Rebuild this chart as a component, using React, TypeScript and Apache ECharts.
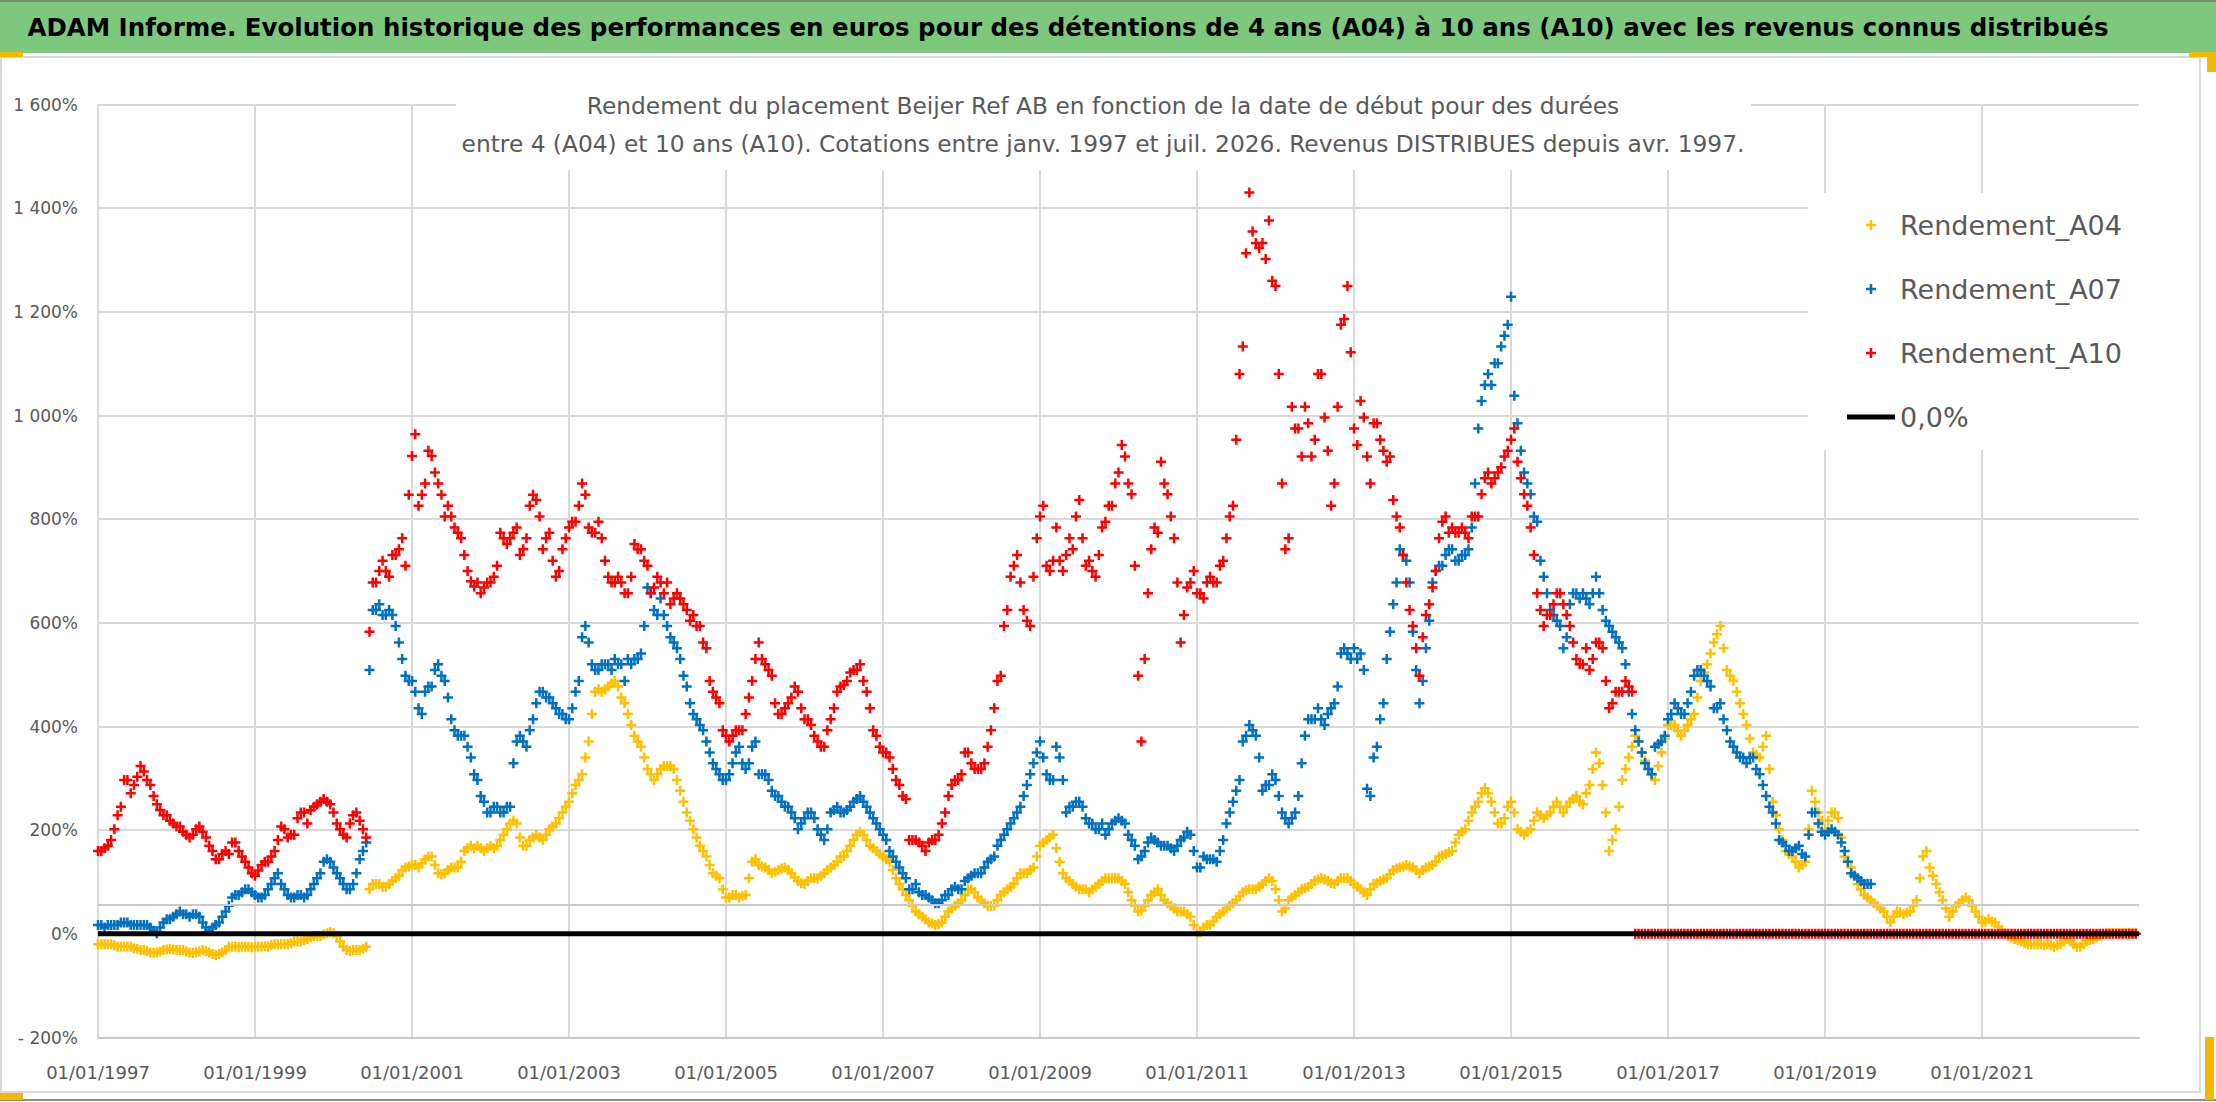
import { useEffect, useRef } from "react";
import * as echarts from "echarts";

// Readings from January 1997: one value on the 1st and one on the 15th of each month (in %)
const startYear = 1997;

const rendementA04Debut = [
    -20, -20, -20, -25, -25, -25, -29, -31, -36, -36, -31, -29,
    -31, -31, -36, -36, -31, -36, -41, -36, -25, -25, -25, -25,
    -25, -25, -25, -20, -20, -20, -15, -15, -10, -4, -4, 1,
    1, -15, -31, -31, -31, -25, 96, 96, 91, 102, 112, 128,
    133, 128, 144, 149, 117, 117, 128, 128, 160, 170, 170, 160,
    170, 170, 191, 213, 213, 170, 181, 191, 181, 202, 213, 234,
    255, 287, 308, 371, 467, 467, 477, 488, 456, 424, 382, 361,
    318, 297, 318, 324, 318, 276, 234, 202, 170, 149, 117, 107,
    70, 75, 70, 75, 139, 133, 128, 117, 123, 128, 117, 102,
    96, 107, 107, 117, 128, 139, 149, 170, 191, 191, 170, 160,
    149, 139, 107, 86, 65, 43, 33, 22, 17, 22, 43, 54,
    65, 86, 80, 65, 54, 54, 75, 86, 96, 117, 117, 128,
    170, 181, 191, 139, 107, 96, 86, 86, 86, 96, 107, 107,
    107, 96, 65, 43, 54, 75, 86, 65, 54, 43, 43, 33,
    1, 12, 17, 33, 43, 54, 65, 80, 86, 86, 96, 107,
    86, 43, 65, 75, 86, 91, 102, 107, 102, 96, 107, 107,
    96, 86, 75, 96, 102, 107, 123, 128, 133, 128, 117, 128,
    133, 149, 154, 160, 191, 202, 234, 255, 281, 255, 213, 223,
    255, 202, 191, 202, 234, 223, 234, 255, 234, 255, 266, 250,
    287, 350, 287, 160, 202, 297, 340, 382, 350, 318, 297, 350,
    403, 403, 382, 403, 424, 488, 520, 562, 594, 509, 488, 445,
    403, 350, 340, 382, 255, 202, 160, 149, 128, 139, 276, 234,
    202, 234, 223, 149, 128, 96, 75, 65, 54, 43, 22, 43,
    38, 43, 65, 149, 128, 96, 65, 33, 54, 65, 65, 43,
    22, 28, 22, 6, -4, -10, -15, -20, -20, -20, -20, -25,
    -20, -10, -20, -25, -15, -10, -4, 1, 1, 1, 1, 1,
];

const rendementA04Milieu = [
    -20, -20, -22, -25, -25, -28, -31, -33, -37, -34, -30, -30,
    -31, -34, -37, -34, -33, -39, -39, -31, -25, -26, -25, -26,
    -25, -24, -22, -20, -20, -18, -15, -12, -7, -4, -1, 3,
    -4, -25, -33, -31, -29, 86, 96, 91, 96, 107, 123, 130,
    133, 136, 149, 133, 115, 123, 128, 139, 165, 165, 165, 165,
    165, 181, 202, 218, 186, 170, 186, 186, 191, 207, 223, 245,
    271, 297, 340, 424, 472, 472, 483, 477, 445, 403, 371, 340,
    308, 308, 324, 324, 297, 255, 218, 186, 160, 133, 112, 86,
    70, 75, 73, 107, 144, 130, 123, 120, 126, 123, 109, 98,
    102, 107, 112, 123, 133, 149, 160, 181, 197, 181, 165, 154,
    144, 123, 96, 75, 54, 38, 28, 20, 19, 33, 49, 59,
    75, 86, 70, 59, 54, 65, 80, 91, 107, 117, 123, 149,
    176, 186, 165, 117, 102, 91, 86, 80, 91, 102, 107, 107,
    102, 80, 54, 45, 65, 80, 75, 59, 49, 43, 38, 17,
    3, 17, 24, 38, 49, 59, 73, 84, 86, 91, 102, 102,
    65, 49, 70, 80, 88, 96, 105, 105, 98, 102, 107, 102,
    91, 80, 86, 98, 105, 115, 126, 130, 130, 123, 123, 130,
    139, 151, 158, 176, 197, 218, 245, 271, 271, 234, 213, 245,
    234, 197, 197, 218, 229, 229, 245, 245, 245, 260, 255, 271,
    318, 329, 234, 181, 245, 318, 361, 371, 334, 308, 324, 377,
    403, 392, 392, 414, 456, 504, 541, 578, 551, 498, 467, 424,
    377, 345, 361, 318, 229, 181, 154, 139, 133, 202, 255, 218,
    218, 234, 186, 139, 112, 86, 70, 59, 49, 33, 33, 41,
    41, 54, 107, 160, 112, 80, 49, 43, 59, 70, 54, 33,
    24, 24, 14, 1, -7, -12, -18, -20, -20, -22, -22, -22,
    -15, -15, -25, -20, -12, -7, -1, 1, 1, 1, 1, 1,
];

const rendementA07Debut = [
    17, 12, 17, 17, 22, 17, 17, 17, 12, 1, 22, 28,
    38, 38, 33, 38, 22, 6, 17, 33, 54, 75, 80, 86,
    75, 70, 86, 107, 96, 75, 70, 75, 75, 96, 117, 144,
    128, 107, 86, 96, 144, 176, 625, 636, 615, 615, 562, 498,
    488, 435, 467, 477, 520, 488, 414, 382, 382, 340, 297, 255,
    234, 245, 234, 245, 371, 371, 393, 445, 467, 456, 435, 424,
    414, 467, 572, 562, 509, 520, 520, 530, 520, 530, 530, 541,
    668, 625, 647, 594, 562, 530, 477, 424, 403, 371, 329, 308,
    297, 329, 361, 318, 361, 308, 308, 276, 266, 245, 234, 202,
    223, 234, 202, 181, 234, 245, 234, 245, 260, 255, 234, 213,
    191, 160, 139, 117, 86, 96, 75, 70, 59, 65, 75, 91,
    86, 107, 117, 117, 139, 149, 181, 202, 223, 245, 287, 329,
    371, 308, 297, 340, 234, 245, 255, 223, 213, 202, 191, 213,
    223, 213, 181, 144, 160, 186, 176, 170, 165, 170, 186, 191,
    128, 149, 144, 139, 181, 234, 276, 371, 403, 382, 276, 287,
    297, 234, 213, 234, 329, 414, 414, 414, 424, 445, 541, 541,
    551, 541, 280, 340, 414, 530, 636, 742, 720, 583, 445, 551,
    678, 710, 731, 742, 720, 731, 784, 975, 1059, 1059, 1101, 1154,
    1229, 985, 890, 848, 795, 689, 625, 604, 551, 636, 657, 657,
    636, 689, 625, 594, 572, 551, 467, 393, 350, 318, 361, 371,
    414, 445, 424, 445, 498, 509, 488, 435, 445, 393, 361, 340,
    329, 340, 308, 266, 234, 181, 170, 160, 170, 149, 234, 213,
    191, 202, 191, 160, 117, 107, 96, 96,
];

const rendementA07Milieu = [
    17, 17, 17, 22, 22, 17, 17, 17, 6, 12, 28, 33,
    43, 38, 38, 33, 12, 12, 22, 43, 70, 75, 86, 80,
    70, 75, 96, 117, 86, 70, 75, 70, 86, 107, 139, 139,
    117, 96, 86, 117, 160, 509, 625, 615, 625, 594, 530, 488,
    467, 424, 477, 509, 498, 456, 393, 382, 361, 308, 266, 234,
    245, 234, 245, 329, 382, 361, 414, 467, 456, 445, 424, 414,
    435, 488, 594, 520, 509, 520, 509, 520, 488, 520, 530, 594,
    657, 615, 615, 572, 551, 498, 445, 414, 393, 350, 318, 297,
    308, 350, 329, 329, 371, 308, 297, 266, 255, 245, 223, 213,
    234, 223, 191, 202, 239, 234, 239, 255, 266, 245, 223, 202,
    181, 149, 128, 107, 86, 80, 75, 65, 59, 75, 86, 86,
    102, 112, 117, 128, 144, 170, 191, 213, 234, 266, 308, 350,
    340, 297, 361, 297, 245, 255, 245, 213, 202, 213, 202, 218,
    218, 191, 170, 149, 176, 181, 170, 170, 160, 181, 197, 160,
    128, 144, 144, 160, 213, 255, 297, 382, 393, 340, 287, 308,
    266, 223, 223, 266, 382, 414, 435, 403, 435, 477, 551, 530,
    530, 509, 266, 361, 445, 583, 678, 731, 678, 509, 488, 604,
    700, 710, 742, 720, 731, 742, 869, 1028, 1080, 1101, 1133, 1175,
    1038, 932, 869, 805, 720, 657, 615, 594, 572, 657, 647, 647,
    657, 657, 604, 583, 562, 520, 424, 371, 329, 308, 366, 382,
    424, 435, 424, 467, 509, 498, 477, 435, 414, 371, 350, 340,
    340, 318, 287, 245, 213, 176, 160, 165, 154, 191, 234, 197,
    197, 197, 176, 139, 112, 102, 96,
];

const rendementA10Debut = [
    160, 165, 181, 229, 297, 271, 303, 313, 287, 250, 229, 218,
    207, 197, 186, 202, 197, 170, 144, 154, 154, 176, 149, 128,
    112, 133, 139, 160, 207, 186, 191, 234, 213, 245, 255, 255,
    234, 202, 186, 229, 218, 186, 678, 700, 700, 731, 742, 710,
    922, 826, 869, 922, 869, 805, 805, 774, 731, 680, 678, 668,
    678, 710, 763, 763, 784, 742, 826, 837, 742, 774, 689, 742,
    784, 795, 869, 784, 774, 763, 689, 678, 678, 657, 752, 742,
    710, 668, 678, 678, 647, 647, 625, 615, 594, 551, 467, 445,
    382, 382, 393, 424, 488, 562, 520, 498, 424, 435, 456, 467,
    414, 403, 371, 361, 414, 467, 480, 504, 509, 488, 435, 382,
    350, 340, 297, 266, 181, 181, 170, 176, 181, 213, 266, 297,
    308, 350, 318, 318, 361, 435, 498, 625, 710, 678, 604, 689,
    805, 710, 720, 720, 731, 742, 837, 710, 700, 731, 795, 826,
    890, 921, 848, 498, 530, 742, 774, 869, 805, 678, 615, 678,
    657, 647, 689, 678, 720, 805, 953, 1133, 1430, 1333, 1333, 1376,
    1250, 869, 763, 975, 921, 985, 953, 1080, 932, 869, 1175, 1250,
    975, 1028, 921, 985, 953, 911, 837, 784, 678, 594, 498, 615,
    668, 763, 805, 784, 774, 774, 805, 805, 879, 869, 890, 921,
    953, 911, 848, 784, 657, 594, 615, 657, 636, 594, 530, 520,
    509, 562, 551, 435, 467, 467, 477, 0, 0, 0, 0, 0,
    0, 0, 0, 0, 0, 0, 0, 0, 0, 0, 0, 0,
    0, 0, 0, 0, 0, 0, 0, 0, 0, 0, 0, 0,
    0, 0, 0, 0, 0, 0, 0, 0, 0, 0, 0, 0,
    0, 0, 0, 0, 0, 0, 0, 0, 0, 0, 0, 0,
    0, 0, 0, 0, 0, 0, 0, 0, 0, 0, 0, 0,
    0, 0, 0, 0, 0, 0, 0, 0, 0, 0, 0, 0,
];

const rendementA10Milieu = [
    160, 170, 202, 245, 297, 287, 324, 297, 266, 239, 229, 213,
    207, 191, 191, 207, 186, 160, 144, 160, 176, 160, 139, 117,
    122, 139, 149, 181, 202, 191, 223, 234, 239, 250, 260, 250,
    213, 191, 213, 234, 202, 583, 678, 720, 689, 731, 763, 847,
    964, 847, 932, 890, 847, 826, 784, 763, 700, 670, 657, 678,
    689, 774, 752, 774, 731, 763, 847, 805, 763, 720, 700, 763,
    795, 826, 847, 774, 795, 720, 678, 689, 657, 689, 742, 720,
    657, 689, 657, 636, 657, 636, 604, 594, 562, 488, 456, 393,
    371, 393, 393, 456, 530, 530, 509, 445, 424, 445, 477, 435,
    414, 382, 361, 393, 435, 477, 488, 509, 520, 467, 393, 361,
    350, 318, 287, 260, 181, 176, 160, 181, 191, 234, 287, 297,
    350, 329, 318, 329, 393, 488, 594, 689, 731, 625, 594, 763,
    826, 700, 784, 700, 763, 805, 763, 720, 689, 784, 826, 869,
    943, 869, 710, 371, 657, 784, 911, 848, 763, 562, 668, 700,
    657, 678, 678, 710, 763, 826, 1080, 1313, 1355, 1323, 1302, 1260,
    1080, 742, 1017, 975, 1017, 921, 1080, 996, 826, 1017, 1186, 1122,
    943, 996, 869, 985, 932, 921, 805, 731, 625, 551, 572, 636,
    700, 795, 774, 774, 784, 763, 805, 848, 890, 879, 900, 932,
    975, 879, 826, 731, 625, 615, 636, 657, 615, 562, 520, 551,
    530, 562, 488, 445, 467, 488, 467, 0, 0, 0, 0, 0,
    0, 0, 0, 0, 0, 0, 0, 0, 0, 0, 0, 0,
    0, 0, 0, 0, 0, 0, 0, 0, 0, 0, 0, 0,
    0, 0, 0, 0, 0, 0, 0, 0, 0, 0, 0, 0,
    0, 0, 0, 0, 0, 0, 0, 0, 0, 0, 0, 0,
    0, 0, 0, 0, 0, 0, 0, 0, 0, 0, 0, 0,
    0, 0, 0, 0, 0, 0, 0, 0, 0, 0, 0, 0,
];

const zeroLevel = 0;
const greyLevel = 57;
const yearSpan = 26;

const FONT = "'DejaVu Sans', sans-serif";
const PLUS = "path://M3 0H5V3H8V5H5V8H3V5H0V3H3Z";

// x = years elapsed since 01/01/1997
const toPoints = (values: number[], offset: number) => values.map((v, i) => [(i + offset) / 12, v]);

const formatPercent = (v: number) => {
    const a = Math.abs(v);
    const s = a >= 1000 ? `${Math.floor(a / 1000)} ${String(a % 1000).padStart(3, "0")}` : String(a);
    return (v < 0 ? "- " : "") + s + "%";
};

const App = () => {
    const chartRef = useRef<HTMLDivElement>(null);

    useEffect(() => {
        document.body.style.margin = "0";
        if (!chartRef.current) return;
        const chart = echarts.init(chartRef.current, undefined, { renderer: "svg" });

        const scatter = (name: string, color: string, debut: number[], milieu: number[]) => ({
            name,
            type: "scatter",
            data: [...toPoints(debut, 0), ...toPoints(milieu, 0.5)],
            symbol: PLUS,
            symbolSize: 10,
            itemStyle: { color, opacity: 1 },
            emphasis: { disabled: true },
        });

        chart.setOption({
            animation: false,
            backgroundColor: "#ffffff",
            title: [
                {
                    text: "ADAM Informe. Evolution historique des performances en euros pour des détentions de 4 ans (A04) à 10 ans (A10) avec les revenus connus distribués",
                    left: 1068,
                    top: 12,
                    padding: 0,
                    textAlign: "center",
                    textStyle: { fontFamily: FONT, fontSize: 24.5, fontWeight: "bold", color: "#000000", lineHeight: 30 },
                },
                {
                    text: "Rendement du placement Beijer Ref AB en fonction de la date de début pour des durées\nentre 4 (A04) et 10 ans (A10). Cotations entre janv. 1997 et juil. 2026. Revenus DISTRIBUES depuis avr. 1997.",
                    left: 1103,
                    top: 86,
                    padding: 0,
                    textAlign: "center",
                    textStyle: { fontFamily: FONT, fontSize: 23.3, fontWeight: "normal", color: "#595959", lineHeight: 38 },
                },
            ],
            legend: [
                {
                    data: [
                        { name: "Rendement_A04", icon: PLUS },
                        { name: "Rendement_A07", icon: PLUS },
                        { name: "Rendement_A10", icon: PLUS },
                    ],
                    orient: "vertical",
                    left: 1866,
                    top: 210,
                    padding: 0,
                    itemWidth: 10,
                    itemHeight: 10,
                    itemGap: 34,
                    selectedMode: false,
                    textStyle: { fontFamily: FONT, fontSize: 27, color: "#595959", lineHeight: 30, padding: [0, 0, 0, 19] },
                },
                {
                    data: [{ name: "0,0%", icon: "rect" }],
                    orient: "vertical",
                    left: 1847,
                    top: 402,
                    padding: 0,
                    itemWidth: 48,
                    itemHeight: 5,
                    selectedMode: false,
                    textStyle: { fontFamily: FONT, fontSize: 27, color: "#595959", lineHeight: 30 },
                },
            ],
            grid: { left: 98, right: 77, top: 104.5, bottom: 64.5 },
            xAxis: {
                type: "value",
                min: 0,
                max: yearSpan,
                interval: 2,
                axisLine: { show: true, onZero: false, lineStyle: { color: "#c8c8c8", width: 2 } },
                axisTick: { show: false },
                axisLabel: {
                    margin: 26,
                    fontFamily: FONT,
                    fontSize: 18,
                    color: "#595959",
                    showMaxLabel: false,
                    formatter: (v: number) => (v >= yearSpan ? "" : `01/01/${startYear + v}`),
                },
                splitLine: { show: true, showMaxLine: false, lineStyle: { color: "#d9d9d9", width: 2 } },
            },
            yAxis: {
                type: "value",
                min: -200,
                max: 1600,
                interval: 200,
                axisLine: { show: false },
                axisTick: { show: false },
                axisLabel: { margin: 20, fontFamily: FONT, fontSize: 17, color: "#595959", formatter: formatPercent },
                splitLine: { show: true, lineStyle: { color: "#d9d9d9", width: 2 } },
            },
            graphic: [
                { type: "rect", z: 1, shape: { x: 0, y: 0, width: 2216, height: 53 }, style: { fill: "#7ec87e" } },
                { type: "line", z: 1, shape: { x1: 0, y1: 1, x2: 2216, y2: 1 }, style: { stroke: "#6f8f6f", lineWidth: 2 } },
                { type: "rect", z: 1, shape: { x: 1, y: 57, width: 2199, height: 1035 }, style: { fill: "none", stroke: "#d9d9d9", lineWidth: 2 } },
                { type: "line", z: 1, shape: { x1: 0, y1: 1100, x2: 2216, y2: 1100 }, style: { stroke: "#8c8c8c", lineWidth: 2 } },
                { type: "rect", z: 1, shape: { x: 456, y: 60, width: 1295, height: 110 }, style: { fill: "#ffffff" } },
                { type: "rect", z: 1, shape: { x: 1808, y: 193, width: 332, height: 257 }, style: { fill: "#ffffff" } },
                { type: "rect", z: 1, shape: { x: 0, y: 52, width: 23, height: 5 }, style: { fill: "#f5b800" } },
                { type: "rect", z: 1, shape: { x: 0, y: 1093, width: 23, height: 7 }, style: { fill: "#f5b800" } },
                { type: "rect", z: 1, shape: { x: 2189, y: 52, width: 27, height: 5 }, style: { fill: "#f5b800" } },
                { type: "rect", z: 1, shape: { x: 2207, y: 52, width: 9, height: 20 }, style: { fill: "#f5b800" } },
                { type: "rect", z: 1, shape: { x: 2205, y: 1037, width: 9, height: 63 }, style: { fill: "#f5b800" } },
            ],
            series: [
                {
                    name: "0,0%",
                    type: "line",
                    data: [[0, zeroLevel], [yearSpan, zeroLevel]],
                    symbol: "none",
                    lineStyle: { color: "#000000", width: 5 },
                    itemStyle: { color: "#000000" },
                    emphasis: { disabled: true },
                    markLine: {
                        silent: true,
                        symbol: ["none", "none"],
                        label: { show: false },
                        lineStyle: { color: "#c8c8c8", width: 2, type: "solid" },
                        data: [{ yAxis: greyLevel }],
                    },
                },
                scatter("Rendement_A04", "#ffc000", rendementA04Debut, rendementA04Milieu),
                scatter("Rendement_A07", "#0070c0", rendementA07Debut, rendementA07Milieu),
                scatter("Rendement_A10", "#ff0000", rendementA10Debut, rendementA10Milieu),
            ],
        });

        return () => {
            chart.dispose();
        };
    }, []);

    return <div ref={chartRef} style={{ width: "2216px", height: "1102px" }} />;
};

export default App;
